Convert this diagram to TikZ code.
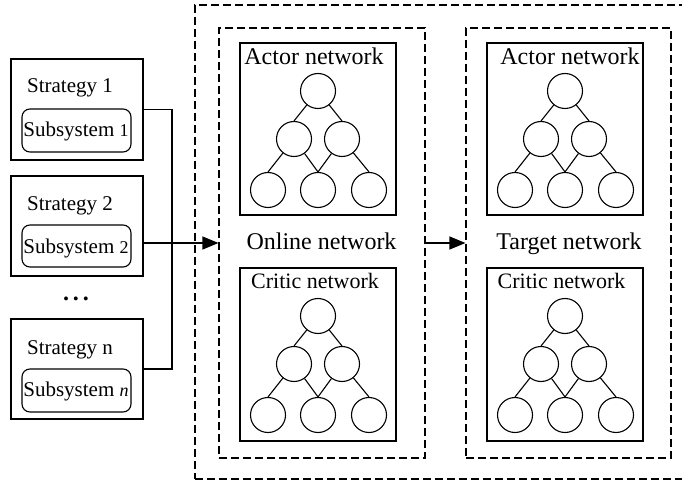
\documentclass[tikz,border=0pt]{standalone}
\usepackage{fontspec}
\setmainfont{Liberation Serif}
\usetikzlibrary{arrows.meta}
\tikzset{
  plainbox/.style={draw, inner sep=0pt, line width=1.1pt},
  dashbox/.style={draw, inner sep=0pt, line width=1.1pt, dash pattern=on 8pt off 4pt},
  subbox/.style={draw, inner sep=0pt, line width=1.1pt, rounded corners=8pt},
  neuron/.style={draw, circle, minimum size=35pt, inner sep=0pt, line width=1.1pt},
  bigtxt/.style={anchor=base, inner sep=0pt, font=\fontsize{24}{28}\selectfont},
  midtxt/.style={anchor=base, inner sep=0pt, font=\fontsize{22}{26}\selectfont},
  smalltxt/.style={anchor=base, inner sep=0pt, font=\fontsize{21}{25}\selectfont},
  arr/.style={line width=1.1pt, -{Triangle[length=16pt,width=13pt]}},
  link/.style={line width=1.1pt},
  tree/.pic={
    \node[neuron] (-t) at (0,0) {};
    \node[neuron] (-m1) at (-24,48) {};
    \node[neuron] (-m2) at (24,48) {};
    \node[neuron] (-b1) at (-50,99) {};
    \node[neuron] (-b2) at (0,99) {};
    \node[neuron] (-b3) at (51,99) {};
    \draw[link] (-t) -- (-m1.north);
    \draw[link] (-t) -- (-m2.north);
    \draw[link] (-m1) -- (-b1.north);
    \draw[link] (-m1) -- (-b2.north);
    \draw[link] (-m2) -- (-b2.north);
    \draw[link] (-m2) -- (-b3.north);
  }
}
\begin{document}
\begin{tikzpicture}[x=1pt,y=-1pt]
\clip (0,0) rectangle (682,481);
\fill[white] (0,0) rectangle (682,481);

% outer dashed frame
\node[dashbox, minimum width=495pt, minimum height=474pt] (outer) at (442.5,242) {};
% online / target frames
\node[dashbox, minimum width=206pt, minimum height=430pt] (on) at (322,243) {};
\node[dashbox, minimum width=205pt, minimum height=430pt] (tg) at (568.5,243) {};

% actor / critic boxes
\node[plainbox, minimum width=156pt, minimum height=172pt] (oa) at (318,129) {};
\node[plainbox, minimum width=156pt, minimum height=172pt] (ta) at (565,129) {};
\node[plainbox, minimum width=156pt, minimum height=173pt] (oc) at (318,354.5) {};
\node[plainbox, minimum width=156pt, minimum height=173pt] (tc) at (565,354.5) {};

\node[bigtxt] (oat) at (314,65) {Actor network};
\node[bigtxt] (tat) at (570,65) {Actor network};
\node[midtxt] (oct) at (315,288) {Critic network};
\node[midtxt] (tct) at (561.5,288) {Critic network};

\node[bigtxt] (ont) at (321.5,249) {Online network};
\node[bigtxt] (tgt) at (569,249) {Target network};

\pic (oatree) at (318,91) {tree};
\pic (tatree) at (565,91) {tree};
\pic (octree) at (318,316) {tree};
\pic (tctree) at (565,316) {tree};

% strategies
\node[plainbox, minimum width=132pt, minimum height=101pt] (s1) at (77,109.5) {};
\node[plainbox, minimum width=132pt, minimum height=100pt] (s2) at (77,226) {};
\node[plainbox, minimum width=132pt, minimum height=100pt] (sn) at (77,369) {};

\node[smalltxt] (s1t) at (70,93) {Strategy 1};
\node[smalltxt] (s2t) at (70,210) {Strategy 2};
\node[smalltxt] (snt) at (70,354) {Strategy n};

\node[subbox, minimum width=109pt, minimum height=43pt] (sub1) at (76.5,130.5) {};
\node[subbox, minimum width=109pt, minimum height=42pt] (sub2) at (76.5,246) {};
\node[subbox, minimum width=109pt, minimum height=43pt] (subn) at (76.5,390.5) {};

\node[smalltxt] (sub1t) at (76,137) {Subsystem {\fontsize{18}{20}\selectfont 1}};
\node[smalltxt] (sub2t) at (76,253) {Subsystem {\fontsize{18}{20}\selectfont 2}};
\node[smalltxt] (subnt) at (76,396) {Subsystem {\fontsize{18}{20}\selectfont\itshape n}};

\node[anchor=base, inner sep=0pt, font=\fontsize{24}{28}\selectfont\bfseries] (dots) at (76,300) {.\hspace{4pt}.\hspace{4pt}.};

% connectors
\coordinate (bus) at (172,109.5);
\draw[link] (s1.east) -- (bus) |- (sn.east);
\draw[arr] (s2.east |- on.west) -- (on.west);
\draw[arr] (on.east) -- (tg.west);
\end{tikzpicture}
\end{document}
